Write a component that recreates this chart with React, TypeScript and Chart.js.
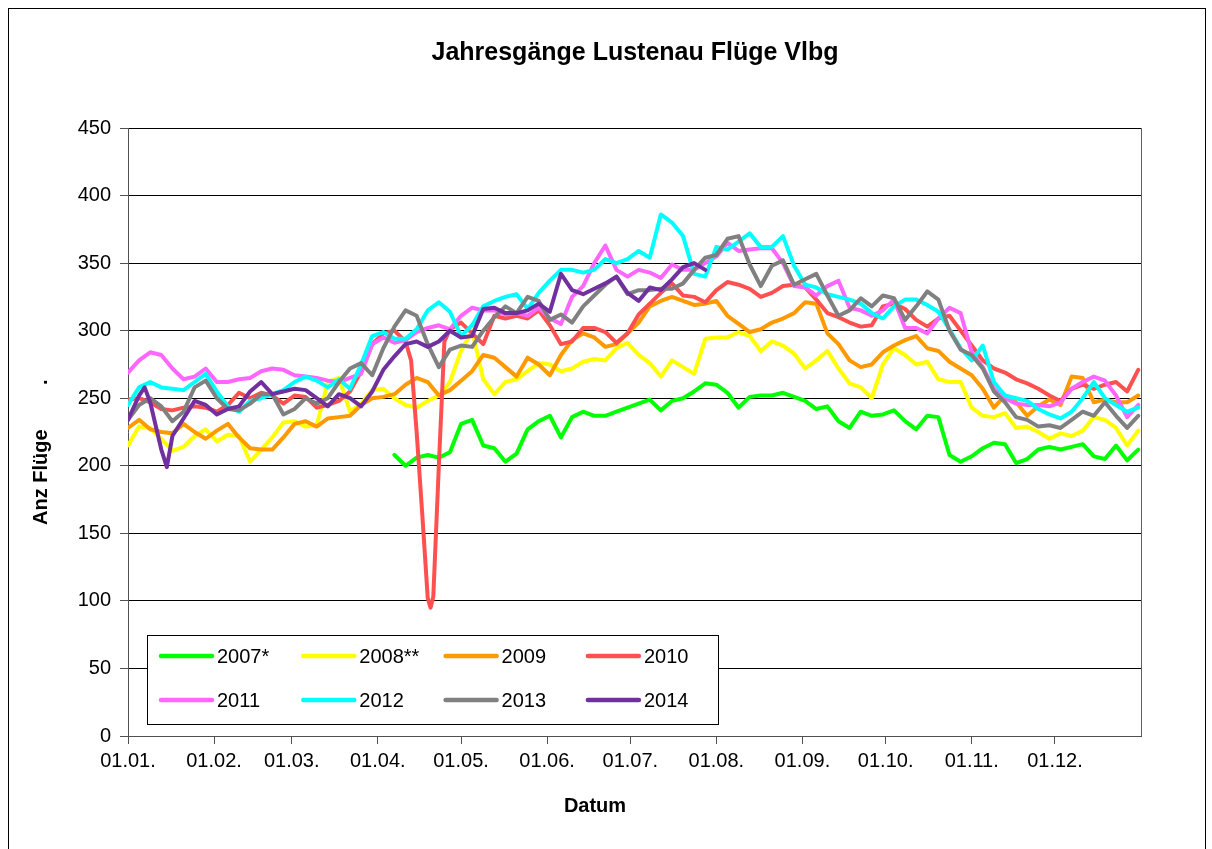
import React, { useEffect, useRef } from 'react';
import { Chart, registerables } from 'chart.js';

Chart.register(...registerables);

const FONT = '"Liberation Sans", Arial, Helvetica, sans-serif';
Chart.defaults.font.family = FONT;

const TITLE = 'Jahresgänge Lustenau Flüge Vlbg';
const X_TITLE = 'Datum';
const Y_TITLE = 'Anz Flüge        .';

// day of year of each sample (01.01. = 0)
const DAYS = [
  0, 4, 6, 8, 12, 14, 16,
  20, 24, 28, 32, 36, 40, 44, 48, 52, 56, 60,
  64, 68, 72, 76, 80, 84, 88, 92, 96, 100,
  102, 104, 106, 108, 109, 110, 112, 114, 116,
  120, 124, 128, 132, 136, 140, 144, 148, 152, 156, 160,
  164, 168, 172, 176, 180, 184, 188, 192, 196, 200, 204,
  208, 212, 216, 220, 224, 228, 232, 236, 240, 244, 248,
  252, 256, 260, 264, 268, 272, 276, 280, 284, 288, 292,
  296, 300, 304, 308, 312, 316, 320, 324, 328, 332, 336,
  340, 344, 348, 352, 356, 360, 364,
];

const MONTH_DAYS = [0, 31, 59, 90, 120, 151, 181, 212, 243, 273, 304, 334];
const MONTH_LABELS = ['01.01.', '01.02.', '01.03.', '01.04.', '01.05.', '01.06.', '01.07.', '01.08.', '01.09.', '01.10.', '01.11.', '01.12.'];

const SERIES_LABELS = ['2007*', '2008**', '2009', '2010', '2011', '2012', '2013', '2014'];
const SERIES_COLORS = ['#00FF00', '#FFFF00', '#FF9900', '#FF5050', '#FF66FF', '#00FFFF', '#808080', '#7030A0'];

const _ = null;

const V2007 = [
  _, _, _, _, _, _, _,
  _, _, _, _, _, _, _, _, _, _, _,
  _, _, _, _, _, _, _, _, 208, 200,
  _, 206, _, 208, _, _, 206, _, 210,
  231, 234, 215, 213, 203, 209, 227, 233, 237, 221, 236,
  240, 237, 237, 240, 243, 246, 249, 241, 248, 250, 255,
  261, 260, 254, 243, 251, 252, 252, 254, 251, 248, 242,
  244, 233, 228, 240, 237, 238, 241, 233, 227, 237, 236,
  208, 203, 207, 213, 217, 216, 202, 205, 212, 214, 212,
  214, 216, 207, 205, 215, 204, 212,
];

const V2008 = [
  215, 229, _, 228, 220, _, 211,
  214, 222, 227, 218, 223, 222, 203, 212, 221, 232, 233,
  229, 230, 262, 265, 240, 246, 256, 257, 250, 245,
  _, 243, _, 248, _, _, 252, _, 262,
  285, 300, 264, 253, 262, 264, 270, 276, 275, 270, 272,
  277, 279, 278, 287, 291, 282, 276, 266, 278, 273, 268,
  294, 295, 295, 299, 296, 285, 292, 289, 283, 272, 278,
  285, 272, 261, 258, 250, 275, 287, 282, 275, 277, 264,
  262, 262, 243, 237, 236, 239, 228, 229, 225, 220, 224,
  222, 226, 236, 234, 228, 215, 226,
];

const V2009 = [
  228, 234, _, 227, 225, _, 224,
  231, 225, 220, 226, 231, 221, 213, 212, 212, 221, 231,
  233, 229, 235, 236, 237, 245, 250, 251, 253, 260,
  _, 265, _, 262, _, _, 252, _, 256,
  263, 270, 282, 280, 273, 266, 280, 275, 267, 282, 293,
  298, 295, 288, 290, 298, 306, 318, 322, 325, 322, 319,
  320, 322, 311, 305, 299, 301, 306, 309, 313, 321, 320,
  298, 290, 278, 273, 275, 284, 289, 293, 296, 287, 285,
  277, 272, 267, 257, 243, 252, 247, 237, 244, 249, 245,
  266, 265, 247, 249, 247, 247, 252,
];

const V2010 = [
  249, 250, _, 247, 242, _, 241,
  243, 244, 243, 240, 245, 254, 250, 254, 252, 246, 252,
  251, 243, 245, 248, 255, 270, 290, 298, 300, 292,
  278, 225, 165, 102, 95, 103, 200, 292, 301,
  306, 298, 290, 311, 309, 311, 309, 315, 304, 290, 292,
  302, 302, 299, 291, 298, 312, 320, 328, 335, 326, 325,
  321, 330, 336, 334, 331, 325, 328, 333, 334, 332, 323,
  313, 310, 306, 303, 304, 318, 320, 316, 308, 303, 309,
  311, 300, 289, 278, 272, 269, 264, 261, 257, 252, 248,
  257, 260, 257, 260, 262, 255, 271,
];

const V2011 = [
  269, 278, _, 284, 282, _, 272,
  264, 266, 272, 262, 262, 264, 265, 270, 272, 271, 267,
  266, 265, 263, 262, 265, 268, 290, 295, 291, 293,
  _, 299, _, 302, _, _, 304, _, 301,
  311, 317, 315, 315, 312, 313, 311, 317, 309, 305, 325,
  333, 350, 363, 345, 340, 345, 343, 339, 349, 345, 345,
  350, 355, 365, 359, 360, 361, 361, 350, 333, 332, 326,
  333, 337, 317, 315, 311, 315, 323, 302, 302, 298, 309,
  317, 313, 284, 273, 257, 250, 246, 245, 245, 244, 247,
  257, 262, 266, 263, 252, 236, 245,
];

const V2012 = [
  245, 258, _, 262, 258, _, 257,
  256, 262, 268, 255, 244, 240, 248, 250, 253, 256, 262,
  266, 263, 258, 264, 257, 275, 296, 299, 294, 294,
  _, 301, _, 315, _, _, 321, _, 314,
  296, 304, 318, 322, 325, 327, 316, 328, 337, 345, 345,
  343, 345, 353, 350, 353, 359, 354, 386, 380, 370, 342,
  340, 362, 360, 366, 372, 362, 362, 370, 348, 334, 332,
  327, 325, 323, 320, 313, 309, 318, 323, 323, 319, 314,
  301, 287, 278, 289, 262, 252, 250, 248, 242, 238, 235,
  240, 250, 262, 250, 245, 240, 243,
];

const V2013 = [
  234, 245, _, 250, 244, _, 233,
  240, 258, 263, 250, 242, 241, 246, 253, 253, 238, 242,
  250, 246, 250, 262, 272, 276, 267, 287, 303, 315,
  _, 311, _, 290, _, _, 273, _, 286,
  289, 288, 300, 310, 318, 313, 325, 322, 308, 312, 306,
  318, 326, 334, 340, 327, 330, 330, 331, 331, 335, 345,
  354, 356, 368, 370, 349, 333, 348, 352, 334, 338, 342,
  326, 311, 315, 324, 318, 326, 324, 308, 318, 329, 323,
  300, 286, 282, 272, 255, 247, 236, 234, 229, 230, 228,
  234, 240, 237, 247, 237, 228, 237,
];

const V2014 = [
  234, 252, 258, 247, 212, 199, 222,
  235, 248, 245, 238, 242, 244, 255, 262, 253, 255, 257,
  256, 250, 244, 253, 250, 244, 255, 271, 281, 290,
  _, 292, _, 288, _, _, 292, _, 300,
  295, 296, 316, 317, 313, 313, 315, 320, 314, 342, 330,
  327, 331, 335, 340, 328, 322, 332, 330, 338, 347, 350,
  345, _, _, _, _, _, _, _, _, _, _,
  _, _, _, _, _, _, _, _, _, _, _,
  _, _, _, _, _, _, _, _, _, _, _,
  _, _, _, _, _, _, _,
];

const SERIES = [V2007, V2008, V2009, V2010, V2011, V2012, V2013, V2014];

const decorPlugin = {
  id: 'decor',
  afterDraw(chart: any) {
    const { ctx, chartArea } = chart;
    ctx.save();
    // right border of plot area
    ctx.strokeStyle = '#606060';
    ctx.lineWidth = 1;
    const rx = Math.round(chartArea.right) + 0.5;
    ctx.beginPath();
    ctx.moveTo(rx, chartArea.top);
    ctx.lineTo(rx, chartArea.bottom);
    ctx.stroke();

    ctx.fillStyle = '#000';
    // title
    ctx.font = `bold 25px ${FONT}`;
    ctx.textAlign = 'center';
    ctx.textBaseline = 'middle';
    ctx.fillText(TITLE, 626, 44);
    // x title
    ctx.font = `bold 20px ${FONT}`;
    ctx.fillText(X_TITLE, 586, 797);
    // y title
    ctx.save();
    ctx.translate(38, 516);
    ctx.rotate(-Math.PI / 2);
    ctx.textAlign = 'left';
    ctx.textBaseline = 'alphabetic';
    ctx.fillText(Y_TITLE, 0, 0);
    ctx.restore();

    // legend box
    ctx.fillStyle = '#fff';
    ctx.fillRect(138, 626, 571, 89);
    ctx.strokeStyle = '#000';
    ctx.lineWidth = 1;
    ctx.strokeRect(138.5, 626.5, 571, 89);
    ctx.font = `20px ${FONT}`;
    ctx.textAlign = 'left';
    ctx.textBaseline = 'middle';
    SERIES_LABELS.forEach((label, i) => {
      const col = i % 4;
      const row = Math.floor(i / 4);
      const x0 = 152 + col * 142.3;
      const y0 = 647 + row * 44;
      ctx.strokeStyle = SERIES_COLORS[i];
      ctx.lineWidth = 4.5;
      ctx.lineCap = 'round';
      ctx.beginPath();
      ctx.moveTo(x0, y0);
      ctx.lineTo(x0 + 51, y0);
      ctx.stroke();
      ctx.fillStyle = '#000';
      ctx.fillText(label, x0 + 56, y0 + 1);
    });
    ctx.restore();
  },
};

export default function App() {
  const ref = useRef<HTMLCanvasElement | null>(null);

  useEffect(() => {
    if (!ref.current) return;
    const chart = new Chart(ref.current, {
      type: 'line',
      data: {
        datasets: SERIES.map((vals, i) => ({
          label: SERIES_LABELS[i],
          data: DAYS.map((d, j) => ({ x: d, y: vals[j] })),
          borderColor: SERIES_COLORS[i],
          backgroundColor: SERIES_COLORS[i],
          borderWidth: 4,
          pointRadius: 0,
          pointHoverRadius: 0,
          tension: 0,
          fill: false,
          spanGaps: true,
          order: SERIES.length - 1 - i,
          borderJoinStyle: 'round' as const,
          borderCapStyle: 'round' as const,
        })),
      },
      options: {
        animation: false,
        responsive: false,
        maintainAspectRatio: false,
        layout: { padding: { top: 119, right: 64, left: 0, bottom: 0 } },
        plugins: {
          legend: { display: false },
          title: { display: false },
          tooltip: { enabled: false },
        },
        scales: {
          x: {
            type: 'linear',
            min: 0,
            max: 365,
            afterBuildTicks: (axis: any) => {
              axis.ticks = MONTH_DAYS.map((v) => ({ value: v }));
            },
            afterFit: (axis: any) => {
              axis.height = 113;
            },
            ticks: {
              autoSkip: false,
              maxRotation: 0,
              minRotation: 0,
              color: '#000',
              padding: 5,
              font: { size: 20, family: FONT },
              callback: (v: any) => {
                const k = MONTH_DAYS.indexOf(Number(v));
                return k >= 0 ? MONTH_LABELS[k] : '';
              },
            },
            grid: {
              display: true,
              drawOnChartArea: false,
              drawTicks: true,
              tickLength: 8,
              tickColor: '#505050',
              color: '#505050',
            },
            border: { display: true, color: '#505050', width: 1 },
          },
          y: {
            type: 'linear',
            min: 0,
            max: 450,
            afterFit: (axis: any) => {
              axis.width = 119;
            },
            ticks: {
              stepSize: 50,
              color: '#000',
              padding: 9,
              font: { size: 20, family: FONT },
            },
            grid: {
              color: '#000',
              lineWidth: 1,
              drawTicks: true,
              tickLength: 8,
              tickColor: '#505050',
            },
            border: { display: true, color: '#505050', width: 1 },
          },
        },
      },
      plugins: [decorPlugin],
    } as any);
    return () => chart.destroy();
  }, []);

  return (
    <div style={{ position: 'fixed', left: 8, top: 8, width: 1198, height: 841, overflow: 'hidden', background: '#fff' }}>
      <div style={{ width: 1196, height: 870, border: '1px solid #000', position: 'relative' }}>
        <canvas ref={ref} width={1196} height={840} style={{ display: 'block', width: 1196, height: 840 }} />
      </div>
    </div>
  );
}
